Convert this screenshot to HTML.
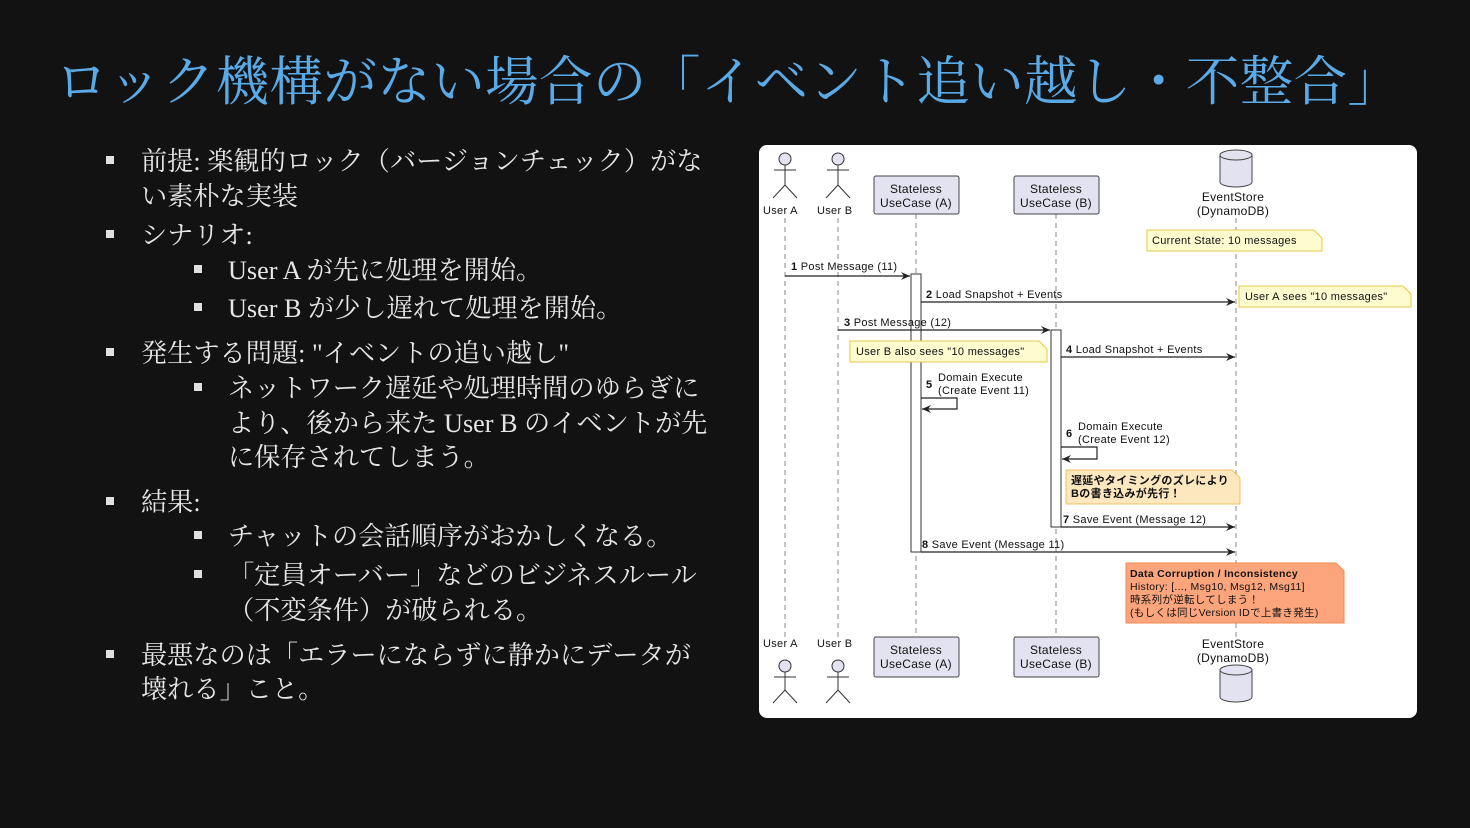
<!DOCTYPE html>
<html><head><meta charset="utf-8"><style>
*{margin:0;padding:0}
body{width:1470px;height:828px;background:#121212;position:relative;overflow:hidden;font-family:"Liberation Serif","Noto Serif CJK SC",serif}
.t{position:absolute;left:55px;top:50px;font-size:53.5px;color:#5aaae8;white-space:nowrap;line-height:64px;letter-spacing:0.4px}
.l{position:absolute;font-size:26.2px;color:#e6e6e6;white-space:nowrap;line-height:34px}
.b{position:absolute;width:8px;height:8px;background:#e0e0e0}
svg{position:absolute;left:0;top:0}
svg text{font-family:"Liberation Sans","Noto Sans CJK JP",sans-serif;font-size:11px;fill:#111;letter-spacing:0.3px}
</style></head><body>
<div class="t">ロック機構がない場合の「イベント追い越し・不整合」</div>

<div class="b" style="left:106px;top:156px"></div><div class="l" style="left:141px;top:145px">前提: 楽観的ロック（バージョンチェック）がな</div>
<div class="l" style="left:141px;top:180px">い素朴な実装</div>
<div class="b" style="left:106px;top:230px"></div><div class="l" style="left:141px;top:219px">シナリオ:</div>
<div class="b" style="left:194px;top:265px"></div><div class="l" style="left:228px;top:254px">User A が先に処理を開始。</div>
<div class="b" style="left:194px;top:303px"></div><div class="l" style="left:228px;top:292px">User B が少し遅れて処理を開始。</div>
<div class="b" style="left:106px;top:348px"></div><div class="l" style="left:141px;top:337px">発生する問題: "イベントの追い越し"</div>
<div class="b" style="left:194px;top:383px"></div><div class="l" style="left:228px;top:372px">ネットワーク遅延や処理時間のゆらぎに</div>
<div class="l" style="left:228px;top:407px">より、後から来た User B のイベントが先</div>
<div class="l" style="left:228px;top:441px">に保存されてしまう。</div>
<div class="b" style="left:106px;top:497px"></div><div class="l" style="left:141px;top:486px">結果:</div>
<div class="b" style="left:194px;top:531px"></div><div class="l" style="left:228px;top:520px">チャットの会話順序がおかしくなる。</div>
<div class="b" style="left:194px;top:570px"></div><div class="l" style="left:228px;top:559px">「定員オーバー」などのビジネスルール</div>
<div class="l" style="left:228px;top:594px">（不変条件）が破られる。</div>
<div class="b" style="left:106px;top:650px"></div><div class="l" style="left:141px;top:639px">最悪なのは「エラーにならずに静かにデータが</div>
<div class="l" style="left:141px;top:673px">壊れる」こと。</div>

<svg width="1470" height="828" viewBox="0 0 1470 828">
<defs><marker id="a" markerWidth="10" markerHeight="8" refX="9" refY="4" orient="auto" markerUnits="userSpaceOnUse"><path d="M0,0 L9,4 L0,8 L3,4 z" fill="#222"/></marker></defs>
<rect x="759" y="145" width="658" height="573" rx="8" fill="#fff"/>
<g stroke="#888" stroke-dasharray="5,4" stroke-width="1">
<line x1="785" y1="218" x2="785" y2="638"/><line x1="838" y1="218" x2="838" y2="638"/>
<line x1="916" y1="214" x2="916" y2="637"/><line x1="1056" y1="214" x2="1056" y2="637"/>
<line x1="1236" y1="218" x2="1236" y2="637"/></g>
<g fill="#e2e2f0" stroke="#333" stroke-width="1">
<circle cx="785" cy="159" r="6"/><circle cx="838" cy="159" r="6"/>
<circle cx="785" cy="666" r="6"/><circle cx="838" cy="666" r="6"/></g>
<g stroke="#333" fill="none">
<path d="M785,165V185M774,170H796M773,198L785,185L797,198"/>
<path d="M838,165V185M827,170H849M826,198L838,185L850,198"/>
<path d="M785,672V690M774,677H796M773,703L785,690L797,703"/>
<path d="M838,672V690M827,677H849M826,703L838,690L850,703"/></g>
<text x="763" y="214">User A</text><text x="817" y="214">User B</text>
<text x="763" y="647">User A</text><text x="817" y="647">User B</text>
<g fill="#e2e2f0" stroke="#444">
<rect x="874" y="176" width="85" height="38" rx="2"/><rect x="1014" y="176" width="85" height="38" rx="2"/>
<rect x="874" y="637" width="85" height="40" rx="2"/><rect x="1014" y="637" width="85" height="40" rx="2"/>
<path d="M1220,155V182A16,5 0 0 0 1252,182V155"/><ellipse cx="1236" cy="155" rx="16" ry="5"/>
<path d="M1220,670V697A16,5 0 0 0 1252,697V670"/><ellipse cx="1236" cy="670" rx="16" ry="5"/></g>
<g text-anchor="middle">
<text x="916" y="193" style="font-size:12px">Stateless</text><text x="916" y="207" style="font-size:12px">UseCase (A)</text>
<text x="1056" y="193" style="font-size:12px">Stateless</text><text x="1056" y="207" style="font-size:12px">UseCase (B)</text>
<text x="916" y="654" style="font-size:12px">Stateless</text><text x="916" y="668" style="font-size:12px">UseCase (A)</text>
<text x="1056" y="654" style="font-size:12px">Stateless</text><text x="1056" y="668" style="font-size:12px">UseCase (B)</text>
<text x="1233" y="201" style="font-size:12px">EventStore</text><text x="1233" y="215" style="font-size:12px">(DynamoDB)</text>
<text x="1233" y="648" style="font-size:12px">EventStore</text><text x="1233" y="662" style="font-size:12px">(DynamoDB)</text></g>
<rect x="911" y="274" width="10" height="278" fill="#fff" stroke="#333"/>
<rect x="1051" y="330" width="10" height="197" fill="#fff" stroke="#333"/>
<g fill="#fefbcf" stroke="#e8c84a">
<path d="M1147,230H1314L1322,238V251H1147Z"/>
<path d="M1239,286H1403L1411,294V307H1239Z"/>
<path d="M850,341H1039L1047,349V362H850Z"/></g>
<path d="M1066,470H1232L1240,478V504H1066Z" fill="#fce7bf" stroke="#f0c060"/>
<path d="M1126,563H1336L1344,571V623H1126Z" fill="#fca57d" stroke="#f08a50"/>
<text x="1152" y="244">Current State: 10 messages</text>
<text x="1245" y="300">User A sees "10 messages"</text>
<text x="856" y="355">User B also sees "10 messages"</text>
<text x="1071" y="484" style="font-weight:bold">遅延やタイミングのズレにより</text>
<text x="1071" y="497" style="font-weight:bold">Bの書き込みが先行！</text>
<text x="1130" y="577" style="font-weight:bold;font-size:10.5px">Data Corruption / Inconsistency</text>
<text x="1130" y="590" style="font-size:10.5px">History: [..., Msg10, Msg12, Msg11]</text>
<text x="1130" y="603" style="font-size:10.5px">時系列が逆転してしまう！</text>
<text x="1130" y="616" style="font-size:10.5px">(もしくは同じVersion IDで上書き発生)</text>
<g stroke="#222" stroke-width="1.2" fill="none">
<line x1="785" y1="276" x2="910" y2="276" marker-end="url(#a)"/>
<line x1="921" y1="302" x2="1235" y2="302" marker-end="url(#a)"/>
<line x1="838" y1="330" x2="1050" y2="330" marker-end="url(#a)"/>
<line x1="1061" y1="357" x2="1235" y2="357" marker-end="url(#a)"/>
<path d="M921,398H957V409H922" marker-end="url(#a)"/>
<path d="M1061,447H1097V459H1062" marker-end="url(#a)"/>
<line x1="1061" y1="527" x2="1235" y2="527" marker-end="url(#a)"/>
<line x1="921" y1="552" x2="1235" y2="552" marker-end="url(#a)"/></g>
<text x="791" y="270"><tspan font-weight="bold">1</tspan> Post Message (11)</text>
<text x="926" y="298"><tspan font-weight="bold">2</tspan> Load Snapshot + Events</text>
<text x="844" y="326"><tspan font-weight="bold">3</tspan> Post Message (12)</text>
<text x="1066" y="353"><tspan font-weight="bold">4</tspan> Load Snapshot + Events</text>
<text x="926" y="388" font-weight="bold">5</text><text x="938" y="381">Domain Execute</text><text x="938" y="394">(Create Event 11)</text>
<text x="1066" y="437" font-weight="bold">6</text><text x="1078" y="430">Domain Execute</text><text x="1078" y="443">(Create Event 12)</text>
<text x="1063" y="523"><tspan font-weight="bold">7</tspan> Save Event (Message 12)</text>
<text x="922" y="548"><tspan font-weight="bold">8</tspan> Save Event (Message 11)</text>
</svg>
</body></html>
